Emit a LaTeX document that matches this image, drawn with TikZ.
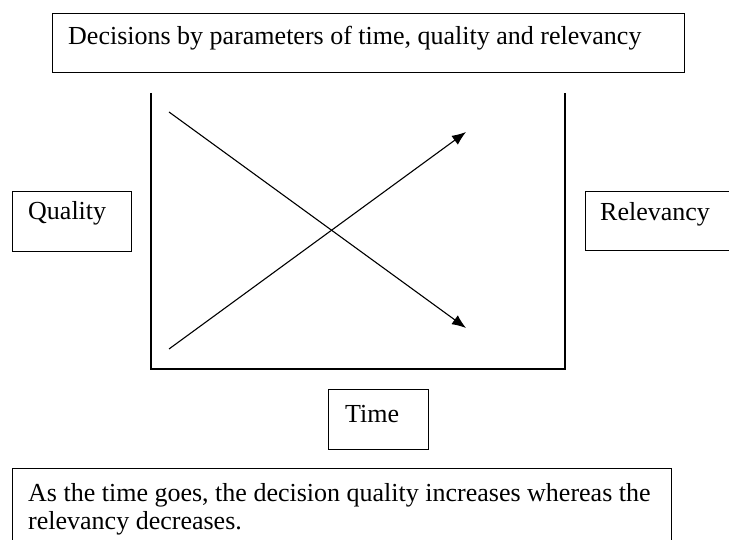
\documentclass[tikz,border=0pt]{standalone}
\usepackage{fontspec}
\setmainfont{Liberation Serif}
\usetikzlibrary{arrows.meta}
\begin{document}
\begin{tikzpicture}[x=1pt,y=-1pt,
  box/.style={draw, line width=1.2pt, rectangle, inner sep=0pt, anchor=north west},
  txt/.style={inner sep=0pt, anchor=base west, font=\fontsize{26}{29}\selectfont},
  axis/.style={line width=1.2pt},
  trend/.style={line width=1.1pt, -{Latex[length=14pt,width=11pt]}}]
\useasboundingbox (0,0) rectangle (729,540);
\clip (0,0) rectangle (729,540);
% title box
\node[box, minimum width=632pt, minimum height=59pt] (topbox) at (52,13) {};
\node[txt] (toptext) at (68,45) {Decisions by parameters of time, quality and relevancy};
% side boxes
\node[box, minimum width=119pt, minimum height=60pt] (qbox) at (12,191) {};
\node[txt] (qtext) at (28,220) {Quality};
\node[box, minimum width=160pt, minimum height=59pt] (rbox) at (585,191) {};
\node[txt] (rtext) at (600,221) {Relevancy};
% time box
\node[box, minimum width=100pt, minimum height=60pt] (tbox) at (328,389) {};
\node[txt] (ttext) at (345,422) {Time};
% bottom box
\node[box, minimum width=659pt, minimum height=100pt] (bbox) at (12,468) {};
\node[txt] (btext1) at (28,501) {As the time goes, the decision quality increases whereas the};
\node[txt] (btext2) at (28,529) {relevancy decreases.};
% open frame
\coordinate (ftl) at (151,93);
\coordinate (fbl) at (151,369);
\coordinate (fbr) at (565,369);
\coordinate (ftr) at (565,93);
\draw[axis] (ftl) -- (fbl) -- (fbr) -- (ftr);
% arrows
\coordinate (a1s) at (169,112);
\coordinate (a1e) at (466,328);
\coordinate (a2s) at (169,349);
\coordinate (a2e) at (466,132);
\draw[trend] (a1s) -- (a1e);
\draw[trend] (a2s) -- (a2e);
\end{tikzpicture}
\end{document}
